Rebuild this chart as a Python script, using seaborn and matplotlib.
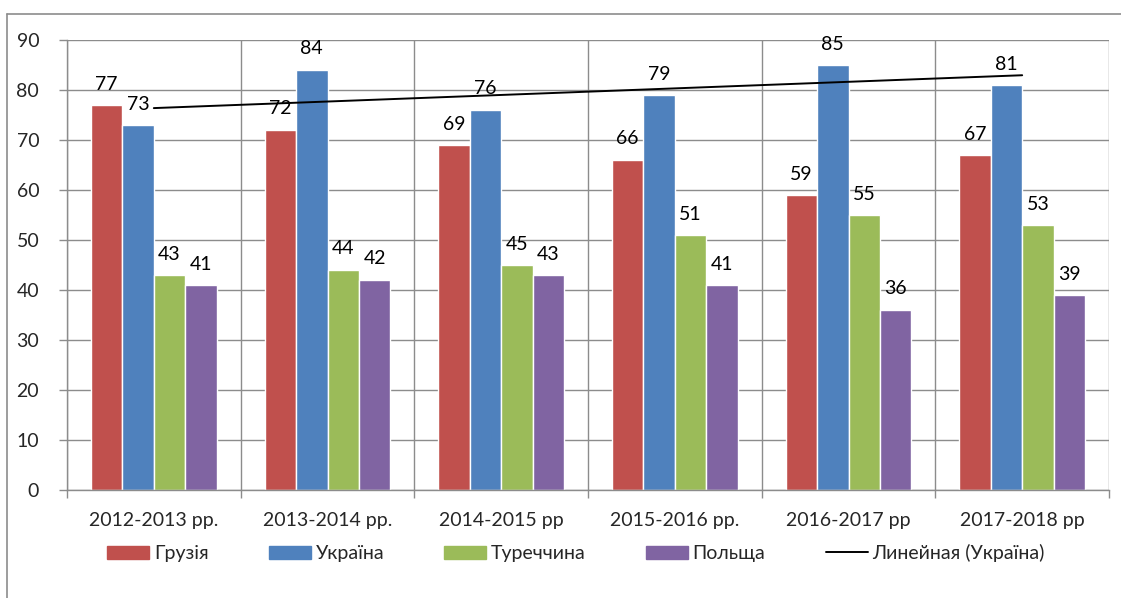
import numpy as np
import pandas as pd
import matplotlib.pyplot as plt
import seaborn as sns
from matplotlib.lines import Line2D
from matplotlib.patches import Patch

# values
years = ['2012-2013 рр.', '2013-2014 рр.', '2014-2015 рр', '2015-2016 рр.', '2016-2017 рр', '2017-2018 рр']
countries = ['Грузія', 'Україна', 'Туреччина', 'Польща']
georgia = [77, 72, 69, 66, 59, 67]
ukraine = [73, 84, 76, 79, 85, 81]
turkey = [43, 44, 45, 51, 55, 53]
poland = [41, 42, 43, 41, 36, 39]
colors = ['#C0504D', '#4F81BD', '#9BBB59', '#8064A2']
trend_label = 'Линейная (Україна)'

df = pd.DataFrame({
    'year': years * 4,
    'country': [c for c in countries for _ in years],
    'value': georgia + ukraine + turkey + poland,
})

sns.set_style('white')
plt.rcParams['font.family'] = ['Lato', 'DejaVu Sans']
grid_col = '#8C8C8C'

fig = plt.figure(figsize=(11.21, 5.98), dpi=100)
ax = fig.add_axes([67 / 1121, 1 - 490 / 598, 1042 / 1121, 450 / 598])

sns.barplot(data=df, x='year', y='value', hue='country', palette=colors,
            width=0.725, saturation=1, ax=ax, legend=False, zorder=2)

for cont in ax.containers:
    ax.bar_label(cont, fmt='%d', padding=9, fontsize=14, color='black')

# linear trendline for Ukraine
xs = np.arange(len(years))
k, b = np.polyfit(xs, ukraine, 1)
ax.plot(xs, k * xs + b, color='black', lw=1.4, zorder=3)

ax.set_xlim(-0.5, len(years) - 0.5)
ax.set_ylim(0, 90)
ax.set_yticks(range(0, 91, 10))
ax.yaxis.grid(True, color=grid_col, lw=1.0, zorder=0)
ax.set_axisbelow(True)

# vertical separators between categories
ax.set_xticks(xs)
ax.set_xticks(np.arange(-0.5, len(years), 1), minor=True)
ax.xaxis.grid(True, which='minor', color=grid_col, lw=1.0)
ax.tick_params(axis='x', which='major', length=0, pad=16, labelsize=14)
ax.tick_params(axis='x', which='minor', length=6, color=grid_col, width=1.0, direction='out', bottom=True)
ax.tick_params(axis='y', length=6, color=grid_col, width=1.0, direction='out', left=True, pad=14, labelsize=14)
ax.set_xlabel('')
ax.set_ylabel('')
for side in ['top', 'right']:
    ax.spines[side].set_visible(False)
for side in ['left', 'bottom']:
    ax.spines[side].set_color(grid_col)
    ax.spines[side].set_linewidth(1.0)

handles = [Patch(color=c, label=n) for c, n in zip(colors, countries)]
handles.append(Line2D([0], [0], color='black', lw=1.4, label=trend_label))
fig.legend(handles=handles, loc='center', bbox_to_anchor=(576 / 1121, 1 - 553 / 598),
           ncol=5, frameon=False, fontsize=14, handlelength=2.15, handleheight=0.65,
           columnspacing=3.1, handletextpad=0.25)

# chart area border (left and top visible)
fig.add_artist(Line2D([7 / 1121, 7 / 1121], [0, 1 - 14 / 598], color=grid_col, lw=1.2))
fig.add_artist(Line2D([7 / 1121, 1], [1 - 14 / 598, 1 - 14 / 598], color=grid_col, lw=1.2))

fig.savefig('out.png', dpi=100)
plt.close(fig)
